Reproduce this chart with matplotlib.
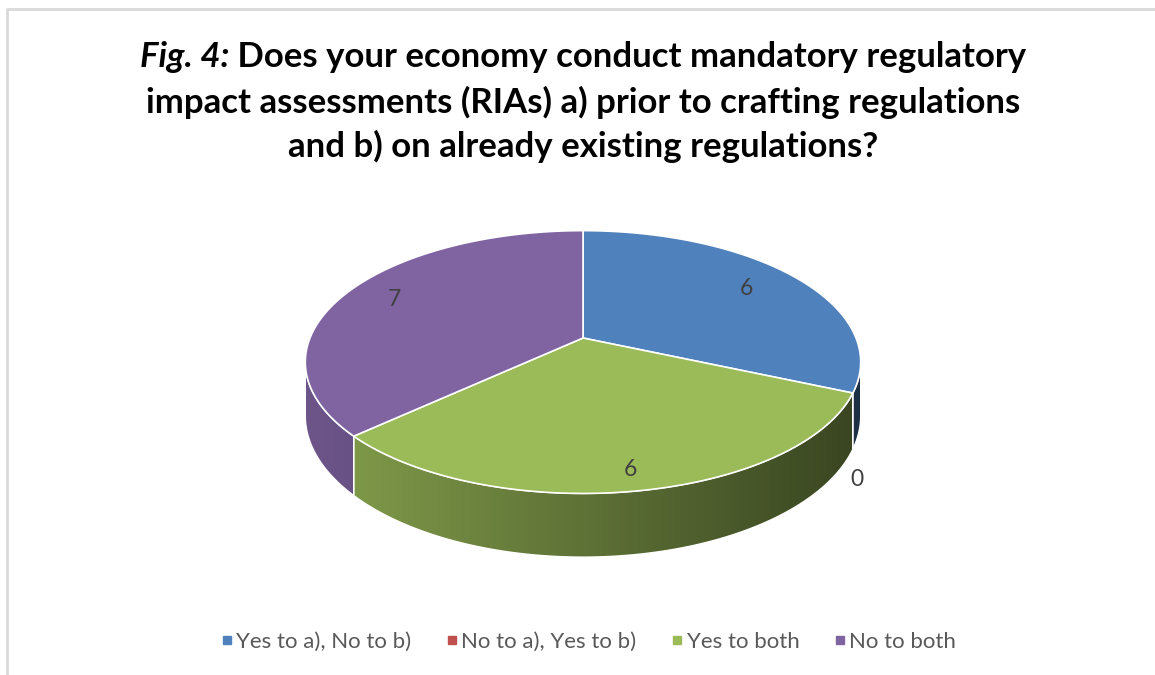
import numpy as np
import matplotlib.pyplot as plt
from matplotlib.patches import Polygon
from matplotlib.lines import Line2D
from matplotlib.colors import to_rgb

# Survey answers
categories = ['Yes to a), No to b)', 'No to a), Yes to b)', 'Yes to both', 'No to both']
counts = [6, 0, 6, 7]
colors = ['#4f81bd', '#c0504d', '#9bbb59', '#8064a2']

title_italic = 'Fig. 4:'
title_lines = [' Does your economy conduct mandatory regulatory',
               'impact assessments (RIAs) a) prior to crafting regulations',
               'and b) on already existing regulations?']

FONT = 'Lato'
TXT = '#404040'

fig = plt.figure(figsize=(11.55, 6.75), dpi=100)
ax = fig.add_axes([0, 0, 1, 1])
ax.set_xlim(0, 1155)
ax.set_ylim(675, 0)
ax.axis('off')

# chart frame
ax.plot([7, 7, 1155], [675, 9, 9], color='#d9d9d9', lw=2, solid_capstyle='butt')

# 3D pie geometry (pixel space, simple perspective tilt)
cx, cy = 583, 338
rx, ry = 273, 127
k = 0.183
depth = 52


def project(t, r=1.0):
    u = r * np.cos(t)
    v = r * np.sin(t)
    s = 1 + k * v
    return cx + rx * u / s, cy - ry * v / s


def base(t):
    x, y = project(t)
    return x, y + depth / (1 + k * np.sin(t))


total = sum(counts)
bounds = np.pi / 2 - 2 * np.pi * np.concatenate([[0], np.cumsum(counts)]) / total
t_left = -np.pi + np.arcsin(k)
t_right = -np.arcsin(k)

# side walls with left-to-right shading
xs = np.linspace(cx - rx - 10, cx + rx + 10, 300)
shade = np.interp(xs, [cx - rx, cx + rx], [0.85, 0.37])
for i, c in enumerate(colors):
    hi = min(bounds[i], t_right)
    lo = max(bounds[i + 1], t_left)
    if hi <= lo:
        continue
    ts = np.linspace(hi, lo, 80)
    top = np.array([project(t) for t in ts])
    bot = np.array([base(t) for t in ts[::-1]])
    pts = np.vstack([top, bot])
    poly = Polygon(pts, closed=True, facecolor='none', edgecolor='none')
    ax.add_patch(poly)
    rgb = np.array(to_rgb(c))
    img = (shade[:, None] * rgb[None, :])[None, :, :]
    im = ax.imshow(img, extent=(xs[0], xs[-1], pts[:, 1].max() + 2, pts[:, 1].min() - 2),
                   aspect='auto', interpolation='bilinear', zorder=2)
    im.set_clip_path(poly)
    ax.add_patch(Polygon(pts, closed=True, facecolor='none', edgecolor='white',
                         lw=1.0, zorder=3))

# top faces
for i, c in enumerate(colors):
    if counts[i] == 0:
        continue
    ts = np.linspace(bounds[i], bounds[i + 1], 200)
    pts = np.vstack([[cx, cy], np.array([project(t) for t in ts])])
    ax.add_patch(Polygon(pts, closed=True, facecolor=c, edgecolor='white',
                         lw=1.2, zorder=4))

# data labels
label_r = [0.77, 1.0, 0.88, 0.8]
for i, n in enumerate(counts):
    mid = (bounds[i] + bounds[i + 1]) / 2
    if n == 0:
        x, y = base(mid)
        x, y = x + 4, y + 30
    else:
        x, y = project(mid, label_r[i])
    ax.text(x, y, str(n), ha='center', va='center', fontsize=16.5,
            family=FONT, color=TXT, zorder=5)

# title, first line has an italic lead-in
fig.canvas.draw()
renderer = fig.canvas.get_renderer()
tsize = 25
line_y = [57, 102, 146]
t_it = ax.text(0, line_y[0], title_italic, fontsize=tsize, weight='bold', style='italic',
               family=FONT, va='center', ha='left')
t_rest = ax.text(0, line_y[0], title_lines[0], fontsize=tsize, weight='bold',
                 family=FONT, va='center', ha='left')
w1 = t_it.get_window_extent(renderer).width
w2 = t_rest.get_window_extent(renderer).width
x0 = 583 - (w1 + w2) / 2
t_it.set_x(x0)
t_rest.set_x(x0 + w1)
for line, y in zip(title_lines[1:], line_y[1:]):
    ax.text(583, y, line, fontsize=tsize, weight='bold', family=FONT,
            va='center', ha='center')

# legend
handles = [Line2D([], [], marker='s', ls='none', color=c, markersize=5.5) for c in colors]
leg = fig.legend(handles, categories, loc='center', bbox_to_anchor=(589 / 1155, 1 - 642 / 675),
                 ncol=4, frameon=False, handlelength=0.45, handletextpad=0.2,
                 columnspacing=1.6, prop={'family': FONT, 'size': 16})
for t in leg.get_texts():
    t.set_color('#595959')

fig.savefig('out.png', dpi=100)
